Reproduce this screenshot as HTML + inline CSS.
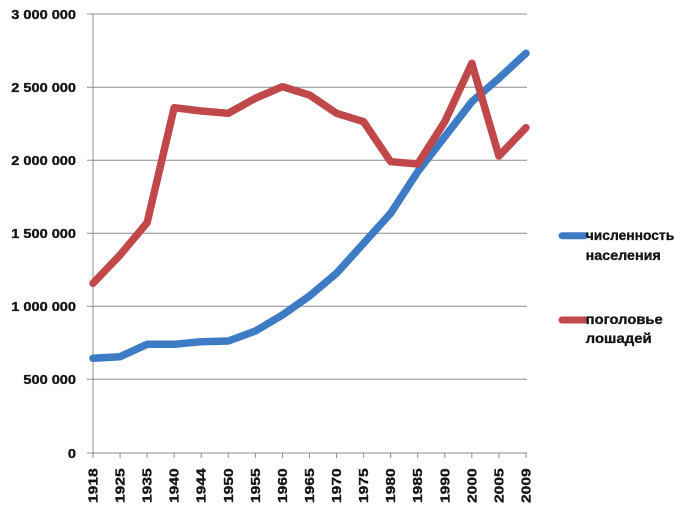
<!DOCTYPE html>
<html>
<head>
<meta charset="utf-8">
<style>
html,body{margin:0;padding:0;background:#fff;}
svg{display:block;}
text{font-family:"Liberation Sans","DejaVu Sans",sans-serif;font-weight:bold;fill:#151515;stroke:#151515;stroke-width:0.35;}
</style>
</head>
<body>
<svg width="690" height="512" viewBox="0 0 690 512" xmlns="http://www.w3.org/2000/svg">
  <rect x="0" y="0" width="690" height="512" fill="#fff"/>
  <g stroke="#8c8c8c" stroke-width="1">
    <line x1="87" y1="14" x2="527" y2="14"/>
    <line x1="87" y1="87.3" x2="527" y2="87.3"/>
    <line x1="87" y1="160.2" x2="527" y2="160.2"/>
    <line x1="87" y1="233.2" x2="527" y2="233.2"/>
    <line x1="87" y1="306.2" x2="527" y2="306.2"/>
    <line x1="87" y1="379.2" x2="527" y2="379.2"/>
    <line x1="87" y1="453" x2="527" y2="453"/>
    <line x1="93" y1="14" x2="93" y2="453"/>
  </g>
  <g stroke="#8c8c8c" stroke-width="1">
    <line x1="93" y1="453" x2="93" y2="458"/>
    <line x1="120.06" y1="453" x2="120.06" y2="458"/>
    <line x1="147.12" y1="453" x2="147.12" y2="458"/>
    <line x1="174.18" y1="453" x2="174.18" y2="458"/>
    <line x1="201.24" y1="453" x2="201.24" y2="458"/>
    <line x1="228.3" y1="453" x2="228.3" y2="458"/>
    <line x1="255.36" y1="453" x2="255.36" y2="458"/>
    <line x1="282.42" y1="453" x2="282.42" y2="458"/>
    <line x1="309.48" y1="453" x2="309.48" y2="458"/>
    <line x1="336.54" y1="453" x2="336.54" y2="458"/>
    <line x1="363.6" y1="453" x2="363.6" y2="458"/>
    <line x1="390.66" y1="453" x2="390.66" y2="458"/>
    <line x1="417.72" y1="453" x2="417.72" y2="458"/>
    <line x1="444.78" y1="453" x2="444.78" y2="458"/>
    <line x1="471.84" y1="453" x2="471.84" y2="458"/>
    <line x1="498.9" y1="453" x2="498.9" y2="458"/>
    <line x1="525.96" y1="453" x2="525.96" y2="458"/>
  </g>
  <g font-size="13" text-anchor="end">
    <text transform="translate(76,18.8) scale(1.12,1)">3 000 000</text>
    <text transform="translate(76,92.1) scale(1.12,1)">2 500 000</text>
    <text transform="translate(76,165) scale(1.12,1)">2 000 000</text>
    <text transform="translate(76,238) scale(1.12,1)">1 500 000</text>
    <text transform="translate(76,311) scale(1.12,1)">1 000 000</text>
    <text transform="translate(76,384) scale(1.12,1)">500 000</text>
    <text transform="translate(76,457.8) scale(1.12,1)">0</text>
  </g>
  <g font-size="13">
    <text transform="translate(97.5,503) rotate(-90) scale(1.2,1)">1918</text>
    <text transform="translate(124.56,503) rotate(-90) scale(1.2,1)">1925</text>
    <text transform="translate(151.62,503) rotate(-90) scale(1.2,1)">1935</text>
    <text transform="translate(178.68,503) rotate(-90) scale(1.2,1)">1940</text>
    <text transform="translate(205.74,503) rotate(-90) scale(1.2,1)">1944</text>
    <text transform="translate(232.8,503) rotate(-90) scale(1.2,1)">1950</text>
    <text transform="translate(259.86,503) rotate(-90) scale(1.2,1)">1955</text>
    <text transform="translate(286.92,503) rotate(-90) scale(1.2,1)">1960</text>
    <text transform="translate(313.98,503) rotate(-90) scale(1.2,1)">1965</text>
    <text transform="translate(341.04,503) rotate(-90) scale(1.2,1)">1970</text>
    <text transform="translate(368.1,503) rotate(-90) scale(1.2,1)">1975</text>
    <text transform="translate(395.16,503) rotate(-90) scale(1.2,1)">1980</text>
    <text transform="translate(422.22,503) rotate(-90) scale(1.2,1)">1985</text>
    <text transform="translate(449.28,503) rotate(-90) scale(1.2,1)">1990</text>
    <text transform="translate(476.34,503) rotate(-90) scale(1.2,1)">2000</text>
    <text transform="translate(503.4,503) rotate(-90) scale(1.2,1)">2005</text>
    <text transform="translate(530.46,503) rotate(-90) scale(1.2,1)">2009</text>
  </g>
  <polyline fill="none" stroke="#3D7CC4" stroke-width="7.5" stroke-linejoin="round" stroke-linecap="round"
    points="93,358.3 120.06,356.7 147.12,344.3 174.18,344.3 201.24,341.7 228.3,341 255.36,331 282.42,315 309.48,296 336.54,273.3 363.6,243.3 390.66,213.3 417.72,171.7 444.78,136.7 471.84,101.7 498.9,78.3 525.96,53.3"/>
  <polyline fill="none" stroke="#C0474A" stroke-width="7.5" stroke-linejoin="round" stroke-linecap="round"
    points="93,283.3 120.06,255 147.12,222.7 174.18,107.7 201.24,111 228.3,113.3 255.36,98.3 282.42,86.7 309.48,95 336.54,113.3 363.6,121.7 390.66,161.7 417.72,164 444.78,121.7 471.84,63.3 498.9,156 525.96,127.7"/>
  <line x1="562" y1="235.7" x2="585" y2="235.7" stroke="#3D7CC4" stroke-width="7" stroke-linecap="round"/>
  <line x1="562" y1="320" x2="585" y2="320" stroke="#C0474A" stroke-width="7" stroke-linecap="round"/>
  <g font-size="14">
    <text x="585.7" y="240" textLength="88.6" lengthAdjust="spacingAndGlyphs">численность</text>
    <text x="585.7" y="260" textLength="75" lengthAdjust="spacingAndGlyphs">населения</text>
    <text x="585.7" y="324" textLength="77" lengthAdjust="spacingAndGlyphs">поголовье</text>
    <text x="585.7" y="343" textLength="66" lengthAdjust="spacingAndGlyphs">лошадей</text>
  </g>
</svg>
</body>
</html>
